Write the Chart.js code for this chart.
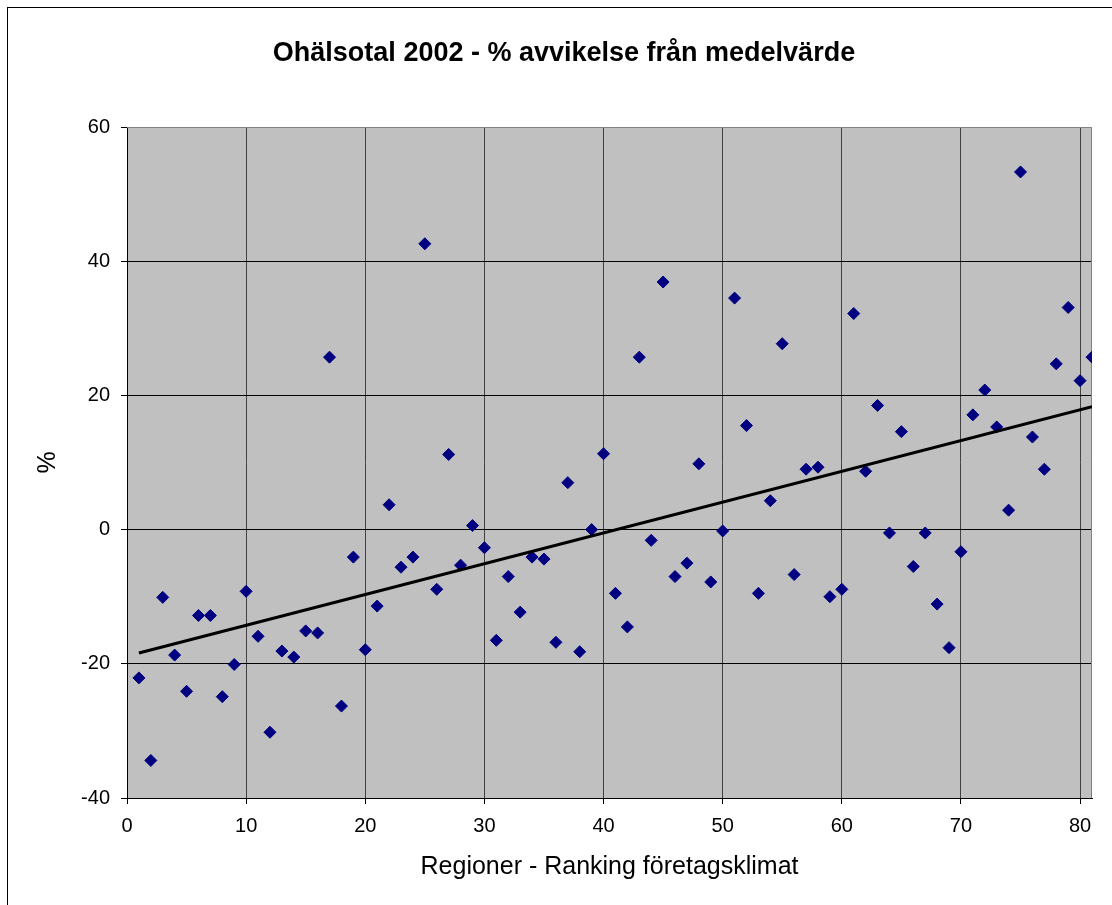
<!DOCTYPE html>
<html>
<head>
<meta charset="utf-8">
<script src="https://cdn.jsdelivr.net/npm/chart.js@4/dist/chart.umd.min.js"></script>
<style>
body{margin:0;background:#fff}
</style>
</head>
<body>
<canvas id="ohalsaChart" width="1112" height="905"></canvas>
<script>

// данные с графика
const ranking = [
1,2,3,4,5,6,7,8,9,10,
11,12,13,14,15,16,17,18,19,20,
21,22,23,24,25,26,27,28,29,30,
31,32,33,34,35,36,37,38,39,40,
41,42,43,44,45,46,47,48,49,50,
51,52,53,54,55,56,57,58,59,60,
61,62,63,64,65,66,67,68,69,70,
71,72,73,74,75,76,77,78,79,80,
81
]

const avvikelse = [
-22.1,-34.4,-10.1,-18.7,-24.1,-12.8,-12.8,-24.9,-20.1,-9.2,
-15.9,-30.2,-18.1,-19.0,-15.1,-15.4,25.7,-26.3,-4.1,-17.9,
-11.4,3.7,-5.6,-4.1,42.6,-8.9,11.2,-5.3,0.6,-2.7,
-16.5,-7.0,-12.3,-4.1,-4.4,-16.8,7.0,-18.2,0.0,11.3,
-9.5,-14.5,25.7,-1.6,36.9,-7.0,-5.0,9.8,-7.8,-0.2,
34.5,15.5,-9.5,4.3,27.7,-6.7,9.0,9.3,-10.0,-8.9,
32.2,8.7,18.5,-0.5,14.6,-5.5,-0.5,-11.1,-17.6,-3.3,
17.1,20.8,15.3,2.9,53.3,13.8,9.0,24.7,33.1,22.2,
25.7
]

// линия тренда (концы)
const trendX = [1, 81]
const trendY = [-18.4, 18.3]

const xTicks = [0,10,20,30,40,50,60,70,80]
const yTicks = [-40,-20,0,20,40,60]

const points = ranking.map((r,i)=>({x:r, y:avvikelse[i]}))
const trend = trendX.map((x,i)=>({x:x, y:trendY[i]}))

const font = "'Liberation Sans', Arial, sans-serif"

// серый фон области построения + рамка
const plotBackground = {
id:"plotBackground",

beforeDraw(chart){
const a = chart.chartArea
const ctx = chart.ctx
ctx.save()
ctx.fillStyle = "#fff"
ctx.fillRect(0,0,chart.width,chart.height)
ctx.strokeStyle = "#000"
ctx.lineWidth = 1
ctx.strokeRect(7.5, 7.5, chart.width + 20, chart.height + 20)
ctx.fillStyle = "#c0c0c0"
ctx.fillRect(a.left, a.top, a.right - a.left, a.bottom - a.top)
ctx.restore()
},

beforeDatasetsDraw(chart){
const a = chart.chartArea
const ctx = chart.ctx
ctx.save()
ctx.strokeStyle = "#808080"
ctx.lineWidth = 1
ctx.beginPath()
ctx.moveTo(a.left, Math.round(a.top) + 0.5)
ctx.lineTo(Math.round(a.right) - 0.5, Math.round(a.top) + 0.5)
ctx.lineTo(Math.round(a.right) - 0.5, a.bottom)
ctx.stroke()
ctx.restore()
}
}

new Chart(document.getElementById("ohalsaChart"),{

type:"scatter",

data:{
datasets:[
{
label:"Trend",
data:trend,
showLine:true,
borderColor:"#000",
borderWidth:3,
pointRadius:0,
pointHoverRadius:0
},
{
label:"Ohälsotal",
data:points,
pointStyle:"rectRot",
pointRadius:6,
pointHoverRadius:6,
backgroundColor:"#000080",
borderColor:"#000080",
borderWidth:1
}
]
},

options:{
responsive:false,
animation:false,
events:[],

layout:{
padding:{left:36, right:20, top:0, bottom:0}
},

plugins:{
legend:{display:false},
tooltip:{enabled:false},
title:{
display:true,
text:"Ohälsotal 2002 - % avvikelse från medelvärde",
color:"#000",
font:{family:font, size:27, weight:"bold"},
padding:{top:37, bottom:57.6}
}
},

scales:{
x:{
type:"linear",
position:"bottom",
min:0,
max:81,
afterBuildTicks:scale=>{ scale.ticks = xTicks.map(v=>({value:v})) },
afterFit:scale=>{ scale.height = 107 },
ticks:{
color:"#000",
font:{family:font, size:20},
padding:10,
maxRotation:0,
autoSkip:false
},
grid:{
color:"#404040",
tickColor:"#000",
tickLength:6,
lineWidth:1
},
border:{color:"#000"},
title:{
display:true,
text:"Regioner - Ranking företagsklimat",
color:"#000",
font:{family:font, size:25},
padding:{top:0, bottom:23}
}
},

y:{
type:"linear",
min:-40,
max:60,
afterBuildTicks:scale=>{ scale.ticks = yTicks.map(v=>({value:v})) },
afterFit:scale=>{ scale.width = 91 },
ticks:{
color:"#000",
font:{family:font, size:20},
padding:11
},
grid:{
color:c=> (c.tick && c.tick.value === 60) ? "rgba(0,0,0,0)" : "#000",
tickColor:"#000",
tickLength:6,
lineWidth:1
},
border:{color:"#000"},
title:{
display:true,
text:"%",
color:"#000",
font:{family:font, size:25, lineHeight:1},
padding:0
}
}
}

},

plugins:[plotBackground]

})

</script>
</body>
</html>
